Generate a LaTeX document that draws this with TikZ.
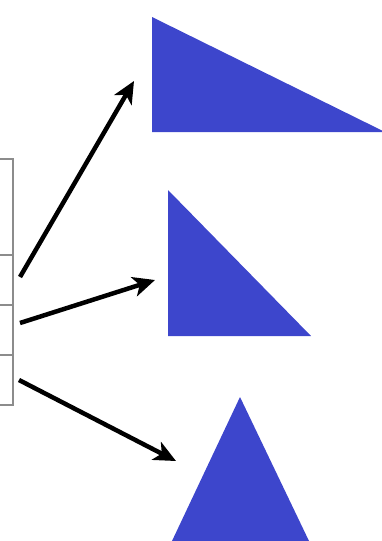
\documentclass[tikz,border=0pt]{standalone}
\usepackage{tikz}
\usetikzlibrary{arrows.meta}
\usetikzlibrary{positioning}
\definecolor{triblue}{RGB}{61,70,204}
\tikzset {
  % table cell on the left
  cell/.style = {
    draw = gray!90,
    line width = 2pt,
    rectangle,
    minimum width = 40pt,
    inner sep = 0
  },
  % filled triangle
  tri/.style = {
    fill = triblue
  },
  % thick arrow
  arr/.style = {
    draw = black,
    line width = 4.5pt,
    -{Stealth[length=22pt, width=20pt, inset=6pt]}
  },
  node distance = -2pt
}

\begin{document}
\begin{tikzpicture}[x=1pt, y=-1pt]
    \useasboundingbox (0,0) rectangle (382,541);

    \node[cell, minimum height=96pt] (cell-top) at (-7,207) {};
    \node[cell, minimum height=50pt] (cell-a) [below=of cell-top] {};
    \node[cell, minimum height=50pt] (cell-b) [below=of cell-a] {};
    \node[cell, minimum height=50pt] (cell-c) [below=of cell-b] {};

    \coordinate (long-top) at (152,17);
    \coordinate (long-corner) at (152,132);
    \coordinate (long-right) at (385,132);
    \coordinate (right-top) at (168,190);
    \coordinate (right-corner) at (168,336);
    \coordinate (right-right) at (311,336);
    \coordinate (iso-top) at (240,397);
    \coordinate (iso-left) at (172,541);
    \coordinate (iso-right) at (309,541);

    \fill[tri] (long-top) -- (long-corner) -- (long-right) -- cycle;
    \fill[tri] (right-top) -- (right-corner) -- (right-right) -- cycle;
    \fill[tri] (iso-top) -- (iso-left) -- (iso-right) -- cycle;

    \coordinate (from-a) at (20,277);
    \coordinate (from-b) at (20,323);
    \coordinate (from-c) at (19,380);
    \coordinate (to-long) at (134,81);
    \coordinate (to-right) at (155,280);
    \coordinate (to-iso) at (176,461);

    \draw[arr] (from-a) -- (to-long);
    \draw[arr] (from-b) -- (to-right);
    \draw[arr] (from-c) -- (to-iso);
\end{tikzpicture}
\end{document}
